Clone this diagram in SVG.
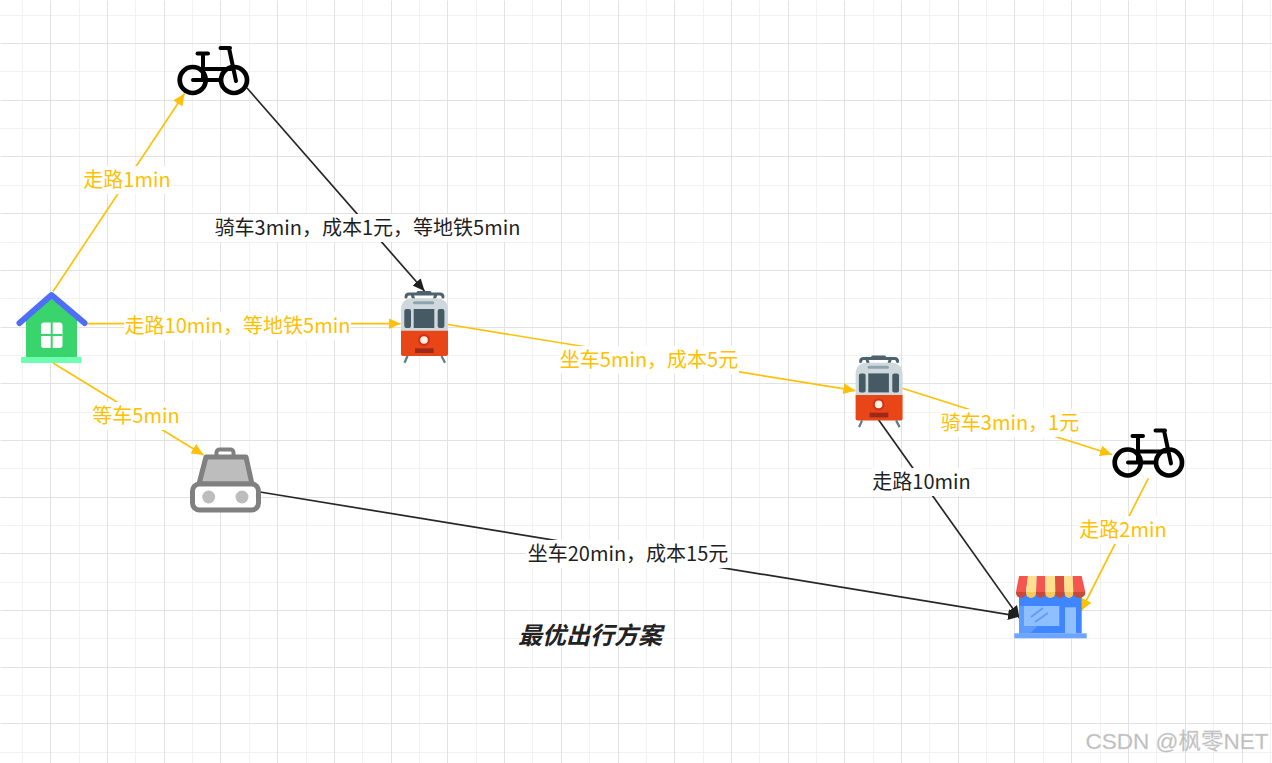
<svg xmlns="http://www.w3.org/2000/svg" width="1272" height="763" viewBox="0 0 1272 763">
<style>
.minor{stroke:#f2f2f2;stroke-width:1;fill:none}
.major{stroke:#e2e2e2;stroke-width:1;fill:none}
.y{stroke:#ffc107;stroke-width:1.7;fill:none;marker-end:url(#ay)}
.k{stroke:#262626;stroke-width:1.7;fill:none;marker-end:url(#ak)}
.bg{fill:#fff}
text{font-family:"Noto Sans CJK SC","Microsoft YaHei",sans-serif;font-size:20px;text-anchor:middle;dominant-baseline:central}
.ty{fill:#ffc000}
.tk{fill:#1f1f1f}
</style>
<defs>
<marker id="ay" markerUnits="userSpaceOnUse" markerWidth="13" markerHeight="11" refX="12" refY="5.500" orient="auto"><path d="M0 0L12 5.500L0 11Z" fill="#ffc107"/></marker>
<marker id="ak" markerUnits="userSpaceOnUse" markerWidth="13" markerHeight="11" refX="12" refY="5.500" orient="auto"><path d="M0 0L12 5.500L0 11Z" fill="#1f1f1f"/></marker>
<g id="bike" fill="none" stroke="#000" stroke-linecap="round">
<circle cx="192.700" cy="80" r="13" stroke-width="4.700"/>
<circle cx="234" cy="80" r="13" stroke-width="4.700"/>
<path d="M193 80H220M203 54V80M197.500 53.500H208M203 69H231M220.500 48H230M229 48L236 81" stroke-width="4"/>
</g>
<g id="tram">
<path d="M406 297Q406 294 409 294H440Q443 294 443 297M412 294L413.500 298.500M436 294L434.500 298.500M418 292.500H430" fill="none" stroke="#4c636f" stroke-width="3" stroke-linecap="round"/>
<path d="M401 310Q401 298.300 413 298.300H436Q448 298.300 448 310V331H401Z" fill="#cfd8dc"/>
<path d="M401 330.700H448V354Q448 356 446 356H403Q401 356 401 354Z" fill="#e84616"/>
<rect x="404.300" y="309" width="6.700" height="19" rx="2" fill="#455a64"/>
<rect x="413.700" y="309" width="20.600" height="19" fill="#455a64"/>
<rect x="437.700" y="309" width="6.700" height="19" rx="2" fill="#455a64"/>
<rect x="413" y="301.300" width="21.300" height="3" rx="1.500" fill="#90a4ae"/>
<circle cx="424" cy="340" r="6" fill="#d32f1c"/>
<circle cx="424" cy="340" r="3.800" fill="#fff3e0"/>
<rect x="415" y="348.300" width="18.700" height="4.700" fill="#9c2a1a"/>
<path d="M407.500 356L404.500 362.700M441.500 356L445 362.700" stroke="#607d8b" stroke-width="2.300" fill="none"/>
</g>
</defs>
<rect width="1272" height="763" fill="#fff"/>
<g id="grid">
<path class="minor" d="M22 0V763M79 0V763M135 0V763M192 0V763M249 0V763M306 0V763M362 0V763M419 0V763M476 0V763M532 0V763M589 0V763M646 0V763M703 0V763M759 0V763M816 0V763M873 0V763M929 0V763M986 0V763M1043 0V763M1100 0V763M1156 0V763M1213 0V763M1270 0V763M0 15H1272M0 71H1272M0 128H1272M0 185H1272M0 242H1272M0 298H1272M0 355H1272M0 412H1272M0 468H1272M0 525H1272M0 582H1272M0 638H1272M0 695H1272M0 752H1272" transform="translate(.5 .5)"/>
<path class="major" d="M50 0V763M107 0V763M164 0V763M220 0V763M277 0V763M334 0V763M391 0V763M447 0V763M504 0V763M561 0V763M618 0V763M674 0V763M731 0V763M788 0V763M844 0V763M901 0V763M958 0V763M1014 0V763M1071 0V763M1128 0V763M1185 0V763M1242 0V763M0 43H1272M0 100H1272M0 156H1272M0 213H1272M0 270H1272M0 327H1272M0 383H1272M0 440H1272M0 497H1272M0 553H1272M0 610H1272M0 667H1272M0 723H1272" transform="translate(.5 .5)"/>
</g>
<g id="connectors">
<path class="y" d="M53 291.500L184.500 93.500"/>
<path class="y" d="M86 323.700H400.500"/>
<path class="y" d="M53 363L203.500 455"/>
<path class="k" d="M247 88L424.500 291"/>
<path class="y" d="M448 324.500L855.300 390.700"/>
<path class="y" d="M902.300 388.300L1112 454.500"/>
<path class="k" d="M878 419L1019.500 618"/>
<path class="k" d="M260 492L1020 616.500"/>
<path class="y" d="M1148.300 478.300L1081 611"/>
</g>
<g id="labels">
<rect class="bg" x="83" y="166" width="88" height="28"/><text class="ty" x="127" y="178.500">走路1min</text>
<rect class="bg" x="214" y="214" width="307" height="28"/><text class="tk" x="367.500" y="226.500">骑车3min，成本1元，等地铁5min</text>
<rect class="bg" x="124" y="312" width="227" height="28"/><text class="ty" x="237.500" y="324.500">走路10min，等地铁5min</text>
<rect class="bg" x="92" y="402" width="88" height="28"/><text class="ty" x="136" y="414.500">等车5min</text>
<rect class="bg" x="559" y="346" width="180" height="28"/><text class="ty" x="649" y="358.500">坐车5min，成本5元</text>
<rect class="bg" x="940" y="409" width="140" height="28"/><text class="ty" x="1010" y="421.500">骑车3min，1元</text>
<rect class="bg" x="872" y="468" width="99" height="28"/><text class="tk" x="921.500" y="480.500">走路10min</text>
<rect class="bg" x="1079" y="516" width="88" height="28"/><text class="ty" x="1123" y="528.500">走路2min</text>
<rect class="bg" x="526" y="540" width="204" height="28"/><text class="tk" x="628" y="552.500">坐车20min，成本15元</text>
<text x="590" y="633" style="font-size:24px;font-weight:700;font-style:italic" fill="#222">最优出行方案</text>
</g>
<g id="node-home">
<path d="M51 298L26 320V357H77V320Z" fill="#39d46b"/>
<path d="M19.500 323L51.500 295L84.500 323" fill="none" stroke="#4f6ef7" stroke-width="6" stroke-linecap="round" stroke-linejoin="round"/>
<rect x="21" y="357" width="60.500" height="6" fill="#6effb0"/>
<rect x="41" y="322.500" width="21.500" height="25.500" rx="3" fill="#fff"/>
<path d="M51.700 322V348M41 335H62.500" stroke="#39d46b" stroke-width="2"/>
</g>
<g id="node-bike-1"><use href="#bike"/></g>
<g id="node-tram-1"><use href="#tram"/></g>
<g id="node-taxi">
<rect x="216.500" y="449.500" width="17" height="8" rx="3" fill="#fff" stroke="#808080" stroke-width="4"/>
<path d="M206 457H246L252 484H199Z" fill="#bdbdbd" stroke="#808080" stroke-width="5" stroke-linejoin="round"/>
<rect x="192.500" y="484" width="66" height="26" rx="7" fill="#fff" stroke="#808080" stroke-width="5"/>
<circle cx="208.700" cy="497" r="6.500" fill="#bdbdbd"/>
<circle cx="242" cy="497" r="6.500" fill="#bdbdbd"/>
</g>
<g id="node-tram-2"><use href="#tram" x="454.600" y="64.400"/></g>
<g id="node-bike-2"><use href="#bike" x="935" y="382.500"/></g>
<g id="node-shop">
<rect x="1019" y="592" width="62.700" height="41.500" fill="#3d86ff"/>
<rect x="1014.300" y="633.300" width="72.400" height="5" fill="#6ea6ff"/>
<path d="M1019 606V633.300H1030L1059.300 606Z" fill="#5e9bff"/>
<rect x="1024" y="606" width="35.300" height="20" fill="#8fbfff"/>
<rect x="1065" y="607.300" width="11" height="26" fill="#8fbfff"/>
<path d="M1031 617L1043 608M1035 622L1048 613" stroke="#5e9bff" stroke-width="1.800" fill="none"/>
<path d="M1019 576H1028L1026 592H1016Z" fill="#f5554f"/>
<path d="M1028 576H1036.700L1036 592H1026Z" fill="#ffe08f"/>
<path d="M1036.700 576H1045.300V592H1036Z" fill="#f5554f"/>
<path d="M1045.300 576H1055L1055.300 592H1045.300Z" fill="#ffe08f"/>
<path d="M1055 576H1064L1064.700 592H1055.300Z" fill="#dd4f3f"/>
<path d="M1064 576H1072.700L1073.300 592H1064.700Z" fill="#ffe08f"/>
<path d="M1072.700 576H1081.700L1085.300 592H1073.300Z" fill="#f5554f"/>
<path d="M1016 592H1026V593A5 5 0 0 1 1016 593Z" fill="#c44a3e"/>
<path d="M1026 592H1036V593A5 5 0 0 1 1026 593Z" fill="#f9c95b"/>
<path d="M1036 592H1045.300V593A4.650 5 0 0 1 1036 593Z" fill="#c44a3e"/>
<path d="M1045.300 592H1055.300V593A5 5 0 0 1 1045.300 593Z" fill="#f9c95b"/>
<path d="M1055.300 592H1064.700V593A4.700 5 0 0 1 1055.300 593Z" fill="#c44a3e"/>
<path d="M1064.700 592H1073.300V593A4.300 5 0 0 1 1064.700 593Z" fill="#f9c95b"/>
<path d="M1073.300 592H1085.300V593A6 5 0 0 1 1073.300 593Z" fill="#c44a3e"/>
</g>
<text id="watermark" x="1177" y="741" style="font-family:'Liberation Sans','Noto Sans CJK SC',sans-serif;font-size:22.500px" fill="#bdbdbd" stroke="#d8d8d8" stroke-width=".3">CSDN @枫零NET</text>
</svg>
